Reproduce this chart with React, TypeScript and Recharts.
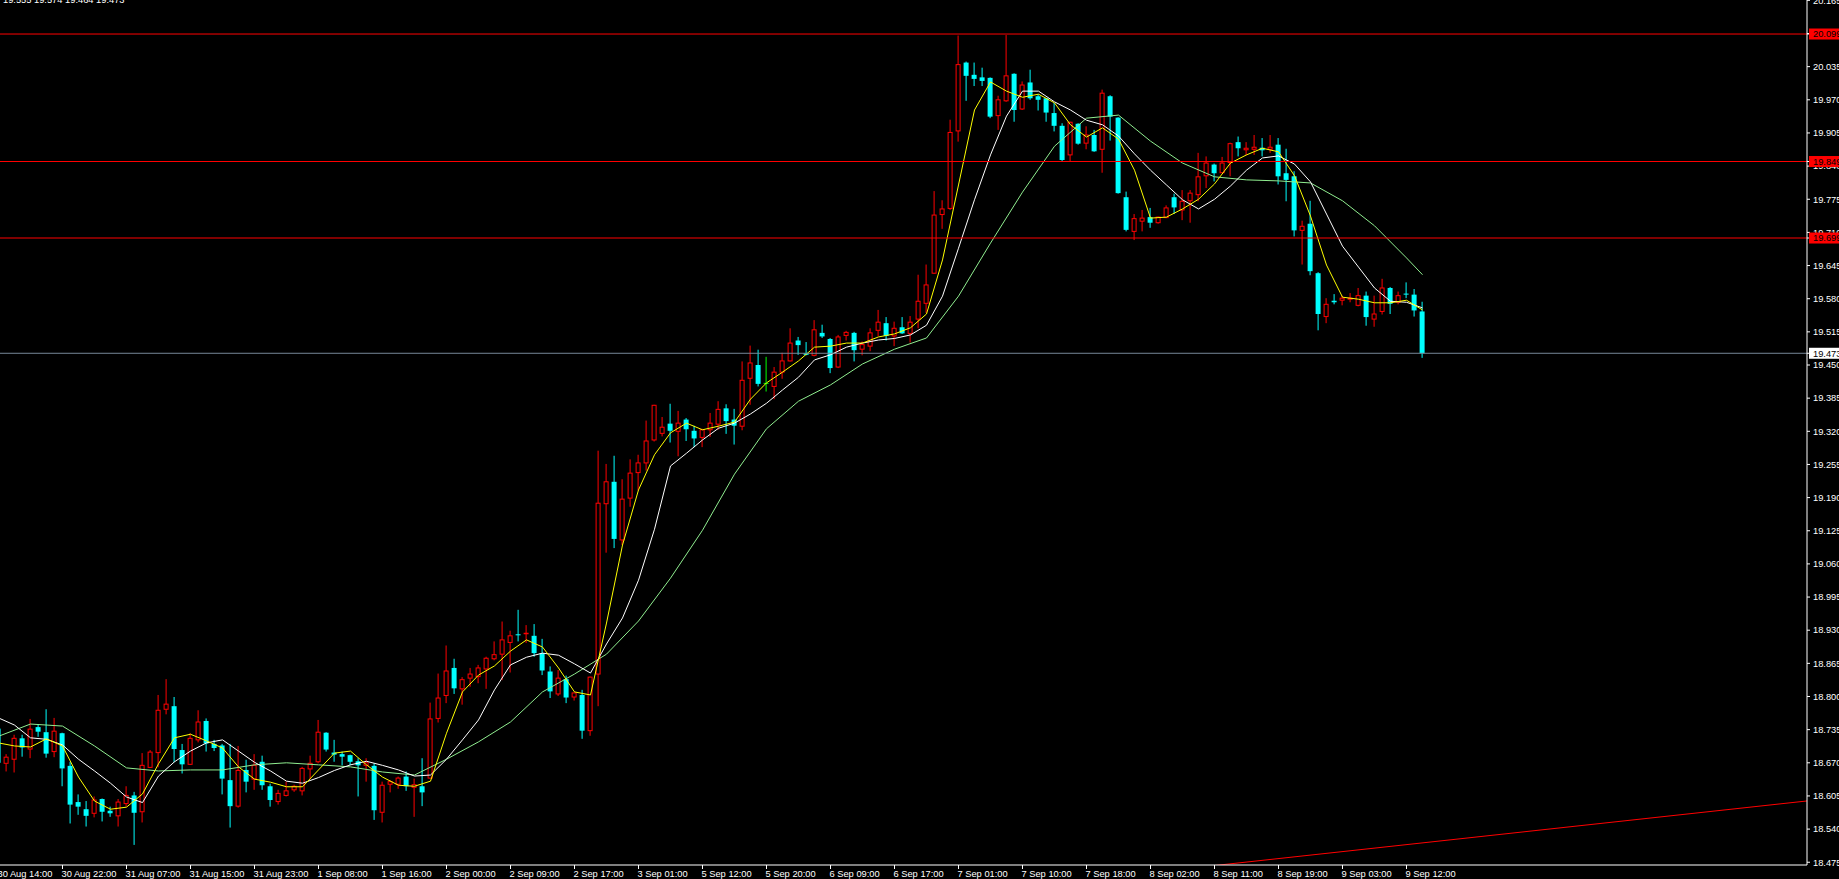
import React from "react";
import { ComposedChart, Bar, Line, XAxis, YAxis, ReferenceLine } from "recharts";

// H1 candles, bar 0 = 30 Aug 14:00, a time label every 8 bars
const timeLabels = [
  "30 Aug 14:00", "30 Aug 22:00", "31 Aug 07:00", "31 Aug 15:00", "31 Aug 23:00",
  "1 Sep 08:00", "1 Sep 16:00", "2 Sep 00:00", "2 Sep 09:00", "2 Sep 17:00",
  "3 Sep 01:00", "5 Sep 12:00", "5 Sep 20:00", "6 Sep 09:00", "6 Sep 17:00",
  "7 Sep 01:00", "7 Sep 10:00", "7 Sep 18:00", "8 Sep 02:00", "8 Sep 11:00",
  "8 Sep 19:00", "9 Sep 03:00", "9 Sep 12:00",
];

const opens = [
  18.737, 18.669, 18.677, 18.718, 18.697, 18.740, 18.730, 18.692, 18.728, 18.664,
  18.593, 18.579, 18.571, 18.599, 18.576, 18.566, 18.590, 18.606, 18.574, 18.661,
  18.690, 18.775, 18.781, 18.695, 18.667, 18.715, 18.752, 18.707, 18.704, 18.636,
  18.585, 18.656, 18.638, 18.672, 18.624, 18.594, 18.606, 18.617, 18.615, 18.658,
  18.672, 18.729, 18.690, 18.687, 18.685, 18.673, 18.665, 18.664, 18.573, 18.628,
  18.628, 18.643, 18.622, 18.624, 18.640, 18.757, 18.802, 18.856, 18.815, 18.836,
  18.839, 18.854, 18.874, 18.883, 18.906, 18.922, 18.923, 18.919, 18.885, 18.849,
  18.805, 18.834, 18.799, 18.803, 18.733, 18.844, 19.178, 19.221, 19.107, 19.189,
  19.239, 19.258, 19.303, 19.316, 19.335, 19.320, 19.343, 19.321, 19.308, 19.323,
  19.334, 19.365, 19.343, 19.330, 19.424, 19.450, 19.414, 19.408, 19.436, 19.458,
  19.498, 19.473, 19.469, 19.513, 19.501, 19.446, 19.508, 19.513, 19.481, 19.487,
  19.518, 19.532, 19.507, 19.524, 19.512, 19.540, 19.571, 19.630, 19.745, 19.757,
  19.909, 20.043, 20.019, 20.014, 20.013, 19.939, 19.968, 20.021, 19.952, 20.004,
  19.977, 19.973, 19.944, 19.919, 19.862, 19.923, 19.885, 19.901, 19.873, 19.977,
  19.935, 19.779, 19.712, 19.732, 19.740, 19.729, 19.739, 19.779, 19.754, 19.772,
  19.784, 19.821, 19.843, 19.827, 19.847, 19.887, 19.872, 19.873, 19.876, 19.873,
  19.882, 19.826, 19.820, 19.714, 19.727, 19.630, 19.545, 19.576, 19.577, 19.579,
  19.567, 19.586, 19.540, 19.555, 19.601, 19.573, 19.590, 19.588, 19.555,
];
const highs = [
  18.745, 18.687, 18.725, 18.725, 18.756, 18.746, 18.775, 18.758, 18.729, 18.672,
  18.608, 18.595, 18.604, 18.600, 18.584, 18.599, 18.624, 18.613, 18.689, 18.695,
  18.803, 18.834, 18.799, 18.707, 18.728, 18.773, 18.757, 18.715, 18.707, 18.707,
  18.703, 18.676, 18.687, 18.684, 18.629, 18.617, 18.633, 18.627, 18.662, 18.684,
  18.754, 18.730, 18.715, 18.692, 18.686, 18.679, 18.679, 18.669, 18.633, 18.636,
  18.643, 18.653, 18.639, 18.679, 18.788, 18.845, 18.900, 18.874, 18.838, 18.856,
  18.862, 18.878, 18.908, 18.947, 18.929, 18.970, 18.940, 18.942, 18.913, 18.859,
  18.852, 18.841, 18.808, 18.813, 18.839, 19.282, 19.256, 19.272, 19.226, 19.265,
  19.274, 19.341, 19.372, 19.348, 19.374, 19.360, 19.346, 19.331, 19.325, 19.356,
  19.379, 19.373, 19.364, 19.457, 19.488, 19.480, 19.466, 19.446, 19.474, 19.522,
  19.505, 19.495, 19.538, 19.529, 19.503, 19.509, 19.517, 19.515, 19.496, 19.522,
  19.558, 19.544, 19.535, 19.544, 19.546, 19.627, 19.647, 19.791, 19.773, 19.931,
  20.096, 20.045, 20.043, 20.033, 20.014, 19.978, 20.097, 20.022, 20.006, 20.029,
  19.981, 19.974, 19.964, 19.924, 19.927, 19.924, 19.918, 19.911, 19.990, 19.979,
  19.936, 19.790, 19.746, 19.754, 19.758, 19.741, 19.763, 19.786, 19.793, 19.793,
  19.866, 19.859, 19.845, 19.858, 19.886, 19.898, 19.887, 19.901, 19.895, 19.901,
  19.895, 19.874, 19.830, 19.733, 19.772, 19.632, 19.581, 19.589, 19.586, 19.591,
  19.601, 19.594, 19.586, 19.619, 19.603, 19.594, 19.612, 19.599, 19.574,
];
const lows = [
  18.665, 18.653, 18.651, 18.682, 18.679, 18.721, 18.680, 18.681, 18.624, 18.551,
  18.568, 18.545, 18.563, 18.555, 18.564, 18.545, 18.584, 18.509, 18.553, 18.660,
  18.661, 18.765, 18.671, 18.649, 18.666, 18.710, 18.692, 18.693, 18.608, 18.543,
  18.582, 18.612, 18.617, 18.617, 18.584, 18.588, 18.604, 18.613, 18.606, 18.638,
  18.669, 18.692, 18.672, 18.665, 18.665, 18.604, 18.633, 18.558, 18.553, 18.612,
  18.619, 18.615, 18.564, 18.585, 18.639, 18.749, 18.787, 18.805, 18.784, 18.819,
  18.826, 18.815, 18.871, 18.832, 18.847, 18.908, 18.905, 18.878, 18.842, 18.797,
  18.801, 18.787, 18.792, 18.717, 18.723, 18.781, 19.082, 19.091, 19.097, 19.172,
  19.204, 19.243, 19.300, 19.310, 19.298, 19.271, 19.301, 19.289, 19.289, 19.309,
  19.323, 19.315, 19.294, 19.322, 19.372, 19.408, 19.398, 19.383, 19.423, 19.457,
  19.470, 19.469, 19.467, 19.503, 19.434, 19.444, 19.498, 19.457, 19.469, 19.477,
  19.506, 19.498, 19.487, 19.511, 19.494, 19.522, 19.552, 19.629, 19.717, 19.754,
  19.888, 19.968, 19.997, 19.997, 19.934, 19.911, 19.966, 19.927, 19.950, 19.970,
  19.949, 19.927, 19.908, 19.850, 19.849, 19.882, 19.873, 19.868, 19.827, 19.890,
  19.786, 19.712, 19.695, 19.712, 19.719, 19.727, 19.738, 19.746, 19.734, 19.729,
  19.771, 19.797, 19.810, 19.827, 19.820, 19.859, 19.861, 19.862, 19.859, 19.866,
  19.804, 19.771, 19.702, 19.647, 19.626, 19.518, 19.532, 19.569, 19.567, 19.573,
  19.565, 19.527, 19.525, 19.549, 19.550, 19.569, 19.581, 19.545, 19.464,
];
const closes = [
  18.670, 18.681, 18.718, 18.700, 18.736, 18.731, 18.688, 18.732, 18.659, 18.588,
  18.584, 18.566, 18.597, 18.574, 18.571, 18.593, 18.606, 18.572, 18.665, 18.691,
  18.773, 18.785, 18.697, 18.667, 18.718, 18.750, 18.708, 18.699, 18.639, 18.585,
  18.655, 18.633, 18.665, 18.626, 18.597, 18.610, 18.615, 18.624, 18.659, 18.669,
  18.730, 18.696, 18.686, 18.682, 18.672, 18.665, 18.670, 18.577, 18.626, 18.633,
  18.640, 18.624, 18.627, 18.612, 18.756, 18.797, 18.850, 18.816, 18.833, 18.844,
  18.856, 18.875, 18.882, 18.911, 18.919, 18.920, 18.924, 18.885, 18.851, 18.810,
  18.836, 18.798, 18.807, 18.733, 18.838, 19.179, 19.221, 19.109, 19.187, 19.238,
  19.258, 19.301, 19.371, 19.328, 19.321, 19.336, 19.324, 19.306, 19.323, 19.336,
  19.363, 19.340, 19.331, 19.420, 19.454, 19.413, 19.414, 19.436, 19.458, 19.493,
  19.489, 19.470, 19.519, 19.506, 19.444, 19.505, 19.514, 19.479, 19.490, 19.513,
  19.534, 19.507, 19.522, 19.512, 19.534, 19.575, 19.607, 19.744, 19.756, 19.906,
  20.039, 20.017, 20.011, 20.007, 19.937, 19.970, 20.017, 19.950, 19.999, 19.973,
  19.970, 19.945, 19.919, 19.852, 19.926, 19.884, 19.901, 19.869, 19.983, 19.937,
  19.787, 19.715, 19.737, 19.738, 19.729, 19.740, 19.758, 19.759, 19.771, 19.787,
  19.819, 19.846, 19.826, 19.846, 19.884, 19.875, 19.875, 19.877, 19.871, 19.877,
  19.820, 19.813, 19.714, 19.722, 19.634, 19.550, 19.569, 19.573, 19.581, 19.581,
  19.586, 19.544, 19.550, 19.601, 19.570, 19.586, 19.588, 19.557, 19.473,
];

// moving averages: fast and mid every 2 bars, slow every 4 (last at bar 178)
const fastMa = [
  18.709, 18.703, 18.701, 18.717, 18.703, 18.642, 18.595, 18.579, 18.583, 18.609,
  18.668, 18.719, 18.726, 18.713, 18.699, 18.662, 18.638, 18.632, 18.623, 18.623,
  18.656, 18.689, 18.693, 18.666, 18.642, 18.626, 18.624, 18.634, 18.728, 18.809,
  18.842, 18.860, 18.889, 18.911, 18.897, 18.856, 18.809, 18.803, 18.944, 19.097,
  19.205, 19.274, 19.317, 19.336, 19.323, 19.330, 19.338, 19.383, 19.415, 19.436,
  19.458, 19.485, 19.487, 19.493, 19.493, 19.505, 19.511, 19.523, 19.550, 19.656,
  19.803, 19.950, 20.005, 19.987, 19.975, 19.981, 19.964, 19.921, 19.897, 19.915,
  19.893, 19.832, 19.738, 19.740, 19.756, 19.775, 19.805, 19.846, 19.862, 19.875,
  19.868, 19.821, 19.742, 19.646, 19.583, 19.579, 19.572, 19.572, 19.577, 19.558,
];
const midMa = [
  18.758, 18.744, 18.719, 18.716, 18.705, 18.677, 18.654, 18.630, 18.603, 18.592,
  18.644, 18.672, 18.693, 18.709, 18.715, 18.693, 18.671, 18.654, 18.634, 18.630,
  18.641, 18.655, 18.666, 18.673, 18.665, 18.656, 18.644, 18.646, 18.677, 18.715,
  18.754, 18.813, 18.862, 18.877, 18.885, 18.881, 18.864, 18.846, 18.903, 18.954,
  19.028, 19.128, 19.252, 19.277, 19.303, 19.326, 19.336, 19.354, 19.375, 19.401,
  19.426, 19.460, 19.470, 19.485, 19.493, 19.499, 19.502, 19.509, 19.528, 19.585,
  19.679, 19.774, 19.862, 19.938, 19.987, 19.987, 19.966, 19.950, 19.930, 19.921,
  19.899, 19.864, 19.832, 19.803, 19.774, 19.756, 19.775, 19.801, 19.832, 19.856,
  19.860, 19.844, 19.809, 19.746, 19.683, 19.642, 19.601, 19.575, 19.573, 19.562,
];
const slowMa = [
  18.722, 18.746, 18.742, 18.703, 18.660, 18.654, 18.656, 18.656, 18.666, 18.670,
  18.666, 18.662, 18.652, 18.646, 18.677, 18.711, 18.750, 18.809, 18.844, 18.883,
  18.948, 19.032, 19.126, 19.236, 19.325, 19.379, 19.411, 19.452, 19.481, 19.503,
  19.585, 19.689, 19.789, 19.879, 19.934, 19.940, 19.889, 19.846, 19.819, 19.813,
  19.811, 19.807, 19.772, 19.723, 19.660, 19.627,
];

const priceTicks = [
  18.475, 18.54, 18.605, 18.67, 18.735, 18.8, 18.865, 18.93, 18.995, 19.06,
  19.125, 19.19, 19.255, 19.32, 19.385, 19.45, 19.515, 19.58, 19.645, 19.71,
  19.775, 19.84, 19.905, 19.97, 20.035, 20.1, 20.165,
];
const levelLines = [20.099, 19.849, 19.699];
const bidPrice = 19.473;
const trendPoints = [
  { bar: 140, price: 18.448 },
  { bar: 240, price: 18.619 },
];
const lastOhlc = [19.555, 19.574, 19.464, 19.473];

const W = 1839;
const H = 879;
const FONT = "'Liberation Sans', Arial, sans-serif";

type Row = {
  i: number;
  open: number;
  high: number;
  low: number;
  close: number;
  range: [number, number];
  fast?: number;
  mid?: number;
  slow?: number;
};

const rows: Row[] = opens.map((o, i) => ({
  i,
  open: o,
  high: highs[i],
  low: lows[i],
  close: closes[i],
  range: [lows[i], highs[i]],
}));
fastMa.forEach((v, k) => {
  rows[k * 2].fast = v;
});
midMa.forEach((v, k) => {
  rows[k * 2].mid = v;
});
slowMa.forEach((v, k) => {
  rows[Math.min(k * 4, rows.length - 1)].slow = v;
});

const labelBars = timeLabels.map((_, k) => k * 8);

// price tags go last in the tick list so they are painted over the ordinary labels
const tagColor = new Map<number, string>([
  ...levelLines.map((v) => [v, "#ff0000"] as [number, string]),
  [bidPrice, "#ffffff"],
]);
const axisTicks = [...priceTicks, ...levelLines, bidPrice];

const Candle = (props: any) => {
  const { x, y, width, height } = props;
  const p = props.payload ?? props;
  if (x == null || y == null || p == null) return null;
  const { open, high, low, close } = p;
  const top = Math.min(y, y + height);
  const bottom = Math.max(y, y + height);
  const toY = (v: number) =>
    high === low ? top : top + ((high - v) / (high - low)) * (bottom - top);
  const cx = x + width / 2;
  const yo = toY(open);
  const yc = toY(close);
  const bt = Math.min(yo, yc);
  const bb = Math.max(yo, yc);
  const color = close > open ? "#ff0000" : close < open ? "#00ffff" : "#00ff00";
  return (
    <g>
      <line x1={cx} x2={cx} y1={top} y2={bottom} stroke={color} strokeWidth={1} />
      {close > open ? (
        <rect x={cx - 2} y={bt} width={4} height={Math.max(bb - bt, 0.5)} fill="#000" stroke={color} strokeWidth={1} />
      ) : close < open ? (
        <rect x={cx - 2.5} y={bt} width={5} height={Math.max(bb - bt, 1)} fill={color} />
      ) : (
        <line x1={cx - 2.5} x2={cx + 2.5} y1={yo} y2={yo} stroke={color} strokeWidth={1} />
      )}
    </g>
  );
};

const TimeTick = (props: any) => {
  const { x, y, payload } = props;
  const label = timeLabels[Math.round(payload.value / 8)] ?? "";
  return (
    <text x={x - 1} y={y + 6} fill="#ffffff" fontSize={9.3} fontFamily={FONT} textAnchor="start">
      {label}
    </text>
  );
};

const PriceTick = (props: any) => {
  const { x, y, payload } = props;
  const v = Number(payload.value);
  const bg = tagColor.get(v);
  if (bg) {
    return (
      <g>
        <rect x={x - 4} y={y - 5.5} width={40} height={11} fill={bg} />
        <text x={x} y={y + 3.3} fill="#000000" fontSize={9.3} fontFamily={FONT} textAnchor="start">
          {v.toFixed(3)}
        </text>
      </g>
    );
  }
  return (
    <text x={x} y={y + 3.3} fill="#ffffff" fontSize={9.3} fontFamily={FONT} textAnchor="start">
      {v.toFixed(3)}
    </text>
  );
};

export default function App() {
  return (
    <div style={{ position: "fixed", left: 0, top: 0, width: W, height: H, background: "#000", overflow: "hidden" }}>
      <ComposedChart
        width={W}
        height={H}
        data={rows}
        margin={{ top: 0, right: 0, bottom: 0, left: 0 }}
        style={{ background: "#000" }}
      >
        <XAxis
          dataKey="i"
          type="number"
          domain={[0.1875, 226.0625]}
          allowDataOverflow
          ticks={labelBars}
          interval={0}
          height={14}
          tick={<TimeTick />}
          tickSize={4}
          tickMargin={2}
          tickLine={{ stroke: "#ffffff" }}
          axisLine={{ stroke: "#ffffff" }}
        />
        <YAxis
          orientation="right"
          type="number"
          domain={[18.4696, 20.1657]}
          allowDataOverflow
          ticks={axisTicks}
          interval={0}
          width={32}
          tick={<PriceTick />}
          tickSize={3}
          tickMargin={3}
          tickLine={{ stroke: "#ffffff" }}
          axisLine={{ stroke: "#ffffff" }}
        />
        <Bar dataKey="range" shape={<Candle />} barSize={8} isAnimationActive={false} />
        <Line dataKey="slow" type="linear" stroke="#90ee90" strokeWidth={1} dot={false} connectNulls isAnimationActive={false} />
        <Line dataKey="mid" type="linear" stroke="#ffffff" strokeWidth={1} dot={false} connectNulls isAnimationActive={false} />
        <Line dataKey="fast" type="linear" stroke="#ffff00" strokeWidth={1} dot={false} connectNulls isAnimationActive={false} />
        {levelLines.map((v) => (
          <ReferenceLine key={v} y={v} stroke="#ff0000" strokeWidth={1} />
        ))}
        <ReferenceLine y={bidPrice} stroke="#778899" strokeWidth={1} />
        <ReferenceLine
          segment={[
            { x: trendPoints[0].bar, y: trendPoints[0].price },
            { x: trendPoints[1].bar, y: trendPoints[1].price },
          ]}
          stroke="#ff0000"
          strokeWidth={1}
          ifOverflow="hidden"
        />
      </ComposedChart>
      <svg width={200} height={10} style={{ position: "absolute", left: 0, top: 0 }}>
        <text x={3} y={2.7} fill="#ffffff" fontSize={9.3} fontFamily={FONT}>
          {lastOhlc.map((v) => v.toFixed(3)).join(" ")}
        </text>
      </svg>
    </div>
  );
}
